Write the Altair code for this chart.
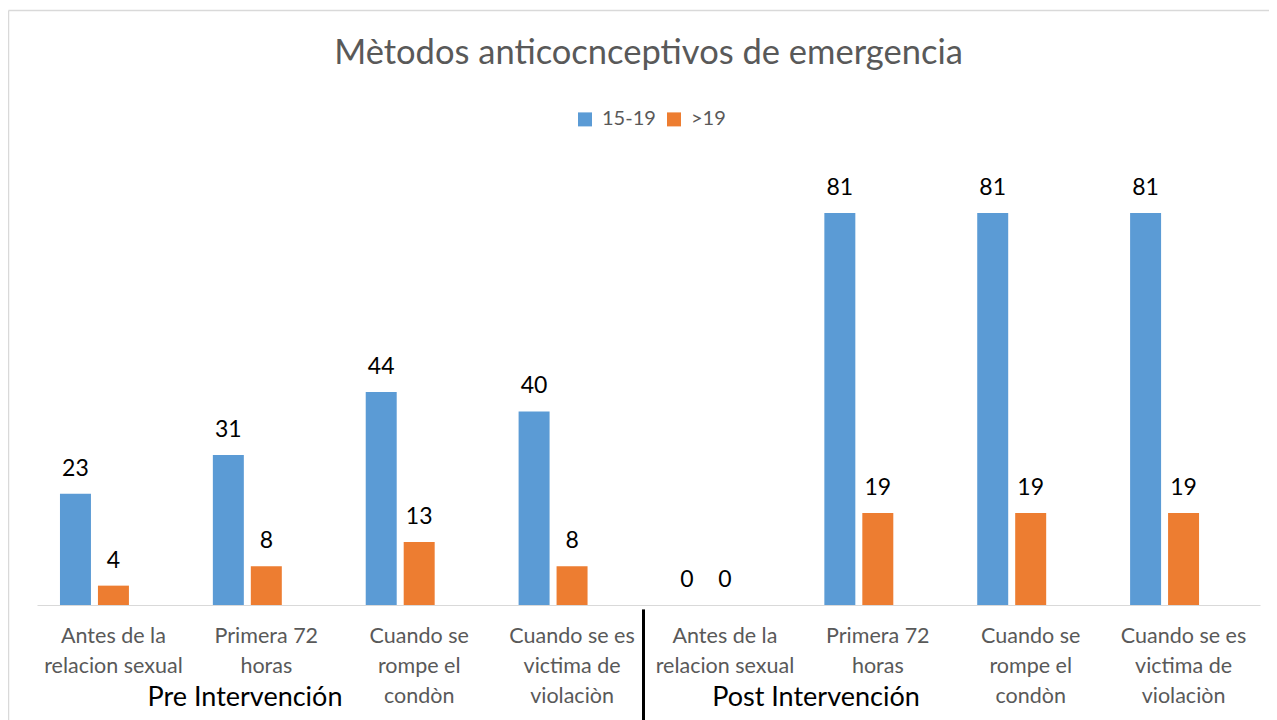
import altair as alt
import pandas as pd

phases = ["Pre Intervención", "Post Intervención"]
methods = ["Antes  de la|relacion sexual", "Primera 72|horas",
           "Cuando se|rompe el|condòn", "Cuando se es|victima de|violaciòn"]
series = ["15-19", ">19"]
v_15_19 = [23, 31, 44, 40, 0, 81, 81, 81]
v_19 = [4, 8, 13, 8, 0, 19, 19, 19]
title_text = "Mètodos anticocnceptivos de emergencia"

keys = [f"{p}#{m}" for p in phases for m in methods]
rows = []
for i, k in enumerate(keys):
    rows.append({"key": k, "serie": series[0], "value": v_15_19[i]})
    rows.append({"key": k, "serie": series[1], "value": v_19[i]})
df = pd.DataFrame(rows)

FONT = "Lato"
GRAY = "#595959"

x_enc = alt.X("key:N", sort=keys, title=None,
              scale=alt.Scale(paddingInner=0, paddingOuter=0),
              axis=alt.Axis(labelExpr="split(split(datum.label, '#')[1], '|')",
                            labelAngle=0, ticks=False, domainColor="#d9d9d9",
                            domainWidth=1, labelFontSize=21.5, labelFont=FONT,
                            labelColor=GRAY, labelPadding=20, labelLineHeight=30,
                            labelLimit=200))
xo_enc = alt.XOffset("serie:N",
                     scale=alt.Scale(domain=series + ["_"], paddingInner=0.184,
                                     paddingOuter=0.605))
y_enc = alt.Y("value:Q", scale=alt.Scale(domain=[0, 90]), axis=None)

base = alt.Chart(df).encode(x=x_enc, xOffset=xo_enc, y=y_enc)

bars = base.mark_bar().encode(
    color=alt.Color("serie:N",
                    scale=alt.Scale(domain=series, range=["#5b9bd5", "#ed7d31"]),
                    legend=alt.Legend(title=None, orient="none", direction="horizontal",
                                      legendX=538, legendY=-60, symbolType="square",
                                      symbolSize=196, symbolStrokeWidth=0,
                                      labelFontSize=20, labelFont=FONT,
                                      labelColor=GRAY, columnPadding=8,
                                      labelOffset=7))
)
labels = base.mark_text(dy=-13, baseline="bottom", fontSize=23, font=FONT,
                        color="black").encode(text="value:Q")

frame_df = pd.DataFrame({"a": [0]})
border_left = alt.Chart(frame_df).mark_rule(color="#d9d9d9", strokeWidth=1.5).encode(
    x=alt.value(-28.5), y=alt.value(-159), y2=alt.value(570))
border_top = alt.Chart(frame_df).mark_rule(color="#d9d9d9", strokeWidth=1.5).encode(
    x=alt.value(-28.5), x2=alt.value(1240), y=alt.value(-159))
separator = alt.Chart(frame_df).mark_rule(color="black", strokeWidth=3).encode(
    x=alt.value(606.5), y=alt.value(440), y2=alt.value(570))

title_df = pd.DataFrame({"t": [title_text]})
title = alt.Chart(title_df).mark_text(fontSize=34.5, font=FONT, color=GRAY,
                                      baseline="middle", align="center").encode(
    text="t:N", x=alt.value(611.5), y=alt.value(-115))

group_df = pd.DataFrame({"label": phases, "px": [208, 779]})
group_labels = alt.Chart(group_df).mark_text(fontSize=27, font=FONT, color="black",
                                             baseline="middle", align="center").encode(
    text="label:N", x=alt.X("px:Q", scale=None), y=alt.value(529))

chart = alt.layer(border_left, border_top, bars, labels, separator, group_labels,
                  title).properties(
    width=1223, height=435.6,
    autosize=alt.AutoSizeParams(type="none"),
    padding={"left": 29, "top": 161.4, "right": 9, "bottom": 140},
).configure_view(stroke=None)

chart.save("out.html", embed_options={"renderer": "svg", "actions": False})
